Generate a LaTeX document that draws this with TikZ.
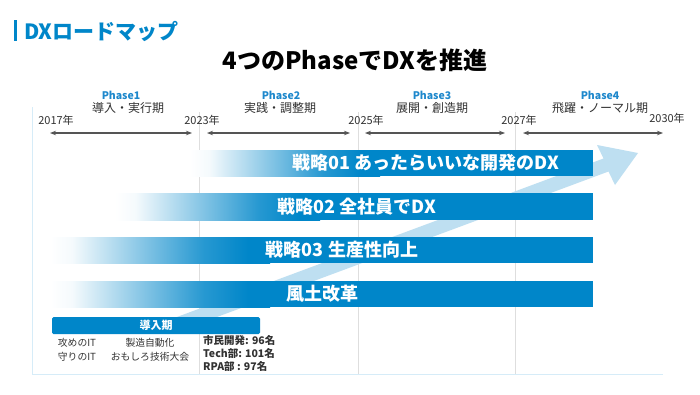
\documentclass[tikz,border=0pt]{standalone}
\usepackage{fontspec}
\setmainfont{Noto Sans CJK JP}
\usetikzlibrary{arrows.meta}
\definecolor{dxblue}{RGB}{0,134,201}
\definecolor{arrowblue}{RGB}{190,223,241}
\definecolor{frameblue}{RGB}{214,236,248}
\definecolor{gridgray}{RGB}{222,222,222}
\definecolor{txtgray}{RGB}{50,50,50}
\definecolor{phaseblue}{RGB}{30,136,204}
\definecolor{arrgray}{RGB}{85,85,85}
\pgfdeclarehorizontalshading{barfade}{100bp}{color(0bp)=(white); color(25bp)=(white); color(30bp)=(white!96!dxblue); color(45bp)=(dxblue!45); color(60bp)=(dxblue!85); color(70bp)=(dxblue); color(100bp)=(dxblue)}
\tikzset{
  phasename/.style={inner sep=0pt, text=phaseblue, font=\bfseries\fontsize{10.5}{10.5}\selectfont},
  phasesub/.style={inner sep=0pt, text=txtgray, font=\fontsize{12}{12}\selectfont},
  yearlbl/.style={inner sep=0pt, text=txtgray, font=\fontsize{11}{11}\selectfont},
  span/.style={<->, >={Stealth[length=6pt,width=4.5pt]}, line width=1.3pt, draw=arrgray},
  bartext/.style={inner sep=0pt, text=white, font=\bfseries\fontsize{18}{18}\selectfont},
  fadebar/.style={shading=barfade},
  small/.style={inner sep=0pt, text=txtgray, font=\fontsize{9.8}{11}\selectfont},
  smallb/.style={inner sep=0pt, text=txtgray, font=\bfseries\fontsize{10.5}{11}\selectfont},
}
\begin{document}
\begin{tikzpicture}[x=1pt,y=-1pt]
\useasboundingbox[fill=white] (0,0) rectangle (700,394);
% heading
\fill[dxblue] (14,20) rectangle (17,41);
\node[anchor=west, inner sep=0pt, text=dxblue, font=\bfseries\fontsize{21}{21}\selectfont] (head) at (24,31) {DXロードマップ};
\node[inner sep=0pt, text=black, font=\bfseries\fontsize{24}{24}\selectfont] (title) at (355,60) {4つのPhaseでDXを推進};
% frame and grid
\draw[frameblue, line width=1pt] (32,107) -- (32,374) -- (663,374);
\foreach \gx in {199,358,515} \draw[gridgray, line width=1pt] (\gx,112) -- (\gx,374);
% phase labels
\node[phasename] (p1) at (121,95) {Phase1};
\node[phasesub] (p1s) at (128,108) {導入・実行期};
\node[phasename] (p2) at (281,95) {Phase2};
\node[phasesub] (p2s) at (280,108) {実践・調整期};
\node[phasename] (p3) at (432,95) {Phase3};
\node[phasesub] (p3s) at (432,108) {展開・創造期};
\node[phasename] (p4) at (600,95) {Phase4};
\node[phasesub] (p4s) at (600,108) {飛躍・ノーマル期};
% years
\node[yearlbl] (y17) at (56,120) {2017年};
\node[yearlbl] (y23) at (202,120) {2023年};
\node[yearlbl] (y25) at (366,120) {2025年};
\node[yearlbl] (y27) at (519,120) {2027年};
\node[yearlbl] (y30) at (667,118) {2030年};
% spans
\coordinate (a1s) at (50,133); \coordinate (a1e) at (192,133);
\coordinate (a2s) at (207,133); \coordinate (a2e) at (350,133);
\coordinate (a3s) at (365,133); \coordinate (a3e) at (505,133);
\coordinate (a4s) at (523,133); \coordinate (a4e) at (663,133);
\draw[span] (a1s) -- (a1e);
\draw[span] (a2s) -- (a2e);
\draw[span] (a3s) -- (a3e);
\draw[span] (a4s) -- (a4e);
% big arrow
\fill[arrowblue] (167.5,320.5) -- (603.5,158.5) -- (597,145) -- (638,153) -- (615,185) -- (608.5,171.5) -- (172.5,333.5) -- cycle;
% bars
\shade[fadebar] (190,150) rectangle (380,176);
\fill[dxblue] (379.5,150) rectangle (593,176);
\node[bartext] (s1) at (426,163) {戦略01 あったらいいな開発のDX};
\shade[fadebar] (115,193) rectangle (320,220);
\fill[dxblue] (319.5,193) rectangle (593,220);
\node[bartext] (s2) at (357,206.5) {戦略02 全社員でDX};
\shade[fadebar] (50,237) rectangle (270,263);
\fill[dxblue] (269.5,237) rectangle (593,263);
\node[bartext] (s3) at (342,250) {戦略03 生産性向上};
\shade[fadebar] (50,281) rectangle (270,307);
\fill[dxblue] (269.5,281) rectangle (593,307);
\node[bartext] (s4) at (322,294) {風土改革};
% intro period
\fill[dxblue, rounded corners=1.5pt] (52,317) rectangle (260,334);
\node[inner sep=0pt, text=white, font=\bfseries\fontsize{11}{11}\selectfont] (intro) at (156,325.5) {導入期};
\node[small] (t1) at (77,343) {攻めのIT};
\node[small] (t2) at (77,357) {守りのIT};
\node[small] (t3) at (150,343) {製造自動化};
\node[small] (t4) at (150,357) {おもしろ技術大会};
\node[smallb, anchor=west] (r1) at (203,340) {市民開発: 96名};
\node[smallb, anchor=west] (r2) at (203,353) {Tech部: 101名};
\node[smallb, anchor=west] (r3) at (203,366) {RPA部 : 97名};
\end{tikzpicture}
\end{document}
